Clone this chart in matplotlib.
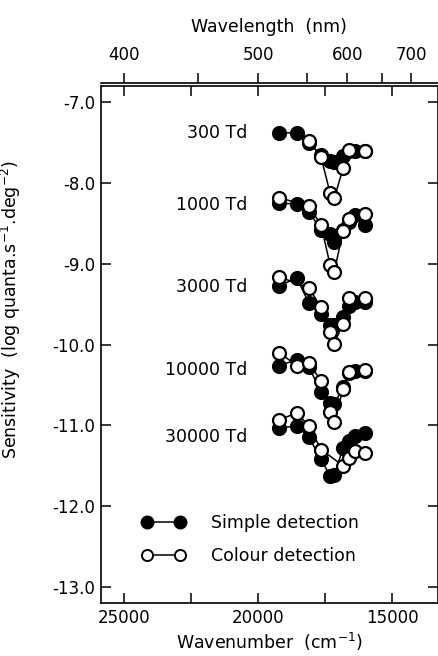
import numpy as np
import matplotlib
matplotlib.use("Agg")
import matplotlib.pyplot as plt
from matplotlib.lines import Line2D

plt.rcParams['axes.unicode_minus'] = False
plt.rcParams['font.family'] = ['DejaVu Sans']

# wavenumber (cm^-1) of the test wavelengths
wavenumber = [19220, 18550, 18100, 17650, 17310, 17160, 16830, 16600, 16380, 16010]

nan = np.nan
# log sensitivity, simple detection (filled) and colour detection (open)
simple_300 = [-7.38, -7.38, -7.51, -7.65, -7.73, -7.74, -7.66, -7.61, -7.60, -7.61]
colour_300 = [nan, nan, -7.48, -7.68, -8.13, -8.19, -7.82, -7.59, nan, -7.60]
simple_1000 = [-8.25, -8.26, -8.36, -8.58, -8.63, -8.73, -8.58, -8.48, -8.40, -8.52]
colour_1000 = [-8.18, nan, -8.29, -8.52, -9.02, -9.10, -8.60, -8.44, nan, -8.39]
simple_3000 = [-9.27, -9.18, -9.49, -9.62, -9.76, -9.76, -9.66, -9.52, -9.47, -9.47]
colour_3000 = [-9.16, nan, -9.30, -9.54, -9.84, -9.99, -9.74, -9.43, nan, -9.43]
simple_10000 = [-10.26, -10.19, -10.28, -10.59, -10.72, -10.74, -10.53, -10.35, -10.33, -10.33]
colour_10000 = [-10.10, -10.26, -10.23, -10.45, -10.84, -10.96, -10.55, -10.34, nan, -10.32]
simple_30000 = [-11.03, -11.01, -11.15, -11.42, -11.63, -11.62, -11.28, -11.20, -11.13, -11.09]
colour_30000 = [-10.93, -10.85, -11.01, -11.30, nan, nan, -11.50, -11.40, -11.32, -11.34]

levels = ['300 Td', '1000 Td', '3000 Td', '10000 Td', '30000 Td']
label_y = [-7.38, -8.27, -9.29, -10.31, -11.14]
simple = [simple_300, simple_1000, simple_3000, simple_10000, simple_30000]
colour = [colour_300, colour_1000, colour_3000, colour_10000, colour_30000]

wn_ticks = [25000, 20000, 15000]
wn_minor = [22500, 17500]
nm_ticks = [400, 500, 600, 700]
nm_minor = [450, 550, 650]
y_ticks = [-7, -8, -9, -10, -11, -12, -13]


def plot_series(ax, x, y, face):
    x = np.array(x, dtype=float)
    y = np.array(y, dtype=float)
    ok = ~np.isnan(y)
    ax.plot(x[ok], y[ok], '-o', color='black', lw=1.1, ms=9.3,
            mfc=face, mec='black', mew=1.6, zorder=3 if face == 'black' else 4)


fig = plt.figure(figsize=(4.39, 6.56), dpi=100)
ax = fig.add_axes([0.230, 0.0808, 0.767, 0.788])

for name, ly, s, c in zip(levels, label_y, simple, colour):
    plot_series(ax, wavenumber, s, 'black')
    plot_series(ax, wavenumber, c, 'white')
    ax.text(20410, ly, name, ha='right', va='center', fontsize=12.5)

ax.set_xlim(25860, 13300)
ax.set_ylim(-13.2, -6.8)
ax.set_xticks(wn_ticks)
ax.set_xticks(wn_minor, minor=True)
ax.set_yticks(y_ticks)
ax.set_yticklabels(['%.1f' % v for v in y_ticks])
ax.tick_params(which='both', direction='in', top=True, right=True,
               length=7, width=1.1, labelsize=12, pad=4)
for sp in ax.spines.values():
    sp.set_linewidth(1.2)

ax.set_xlabel('Wavenumber  (cm$^{-1}$)', fontsize=12.5, labelpad=3)
ax.set_ylabel('Sensitivity  (log quanta.s$^{-1}$.deg$^{-2}$)', fontsize=12.5)
ax.yaxis.set_label_coords(-0.231, 0.567)

sec = ax.secondary_xaxis(1 + 3 / 517, functions=(lambda x: 1e7 / x, lambda x: 1e7 / x))
sec.set_xticks(nm_ticks)
sec.set_xticks(nm_minor, minor=True)
sec.tick_params(which='both', direction='out', length=7, width=1.1,
                labelsize=12, pad=7)
sec.spines['top'].set_linewidth(1.2)
sec.set_xlabel('Wavelength  (nm)', fontsize=12.5, labelpad=10)

handles = [Line2D([], [], color='black', lw=1.1, marker='o', ms=9, mfc='black', mec='black'),
           Line2D([], [], color='black', lw=1.1, marker='o', ms=8, mfc='white', mec='black', mew=1.4)]
ax.legend(handles, ['Simple detection', 'Colour detection'], loc='upper left',
          bbox_to_anchor=(0.122, 0.172), frameon=False, borderpad=0, borderaxespad=0,
          handlelength=2.5, handletextpad=1.5, labelspacing=0.85, fontsize=12.5, numpoints=2)

fig.savefig('out.png', dpi=100)
